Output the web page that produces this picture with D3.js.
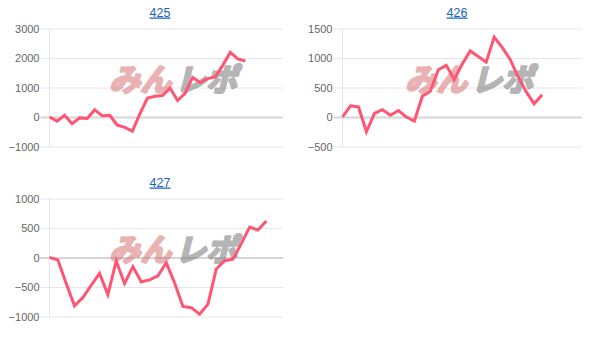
<!DOCTYPE html>
<html>
<head>
<meta charset="utf-8">
<script src="https://cdn.jsdelivr.net/npm/d3@7"></script>
<style>
  body { margin: 0; background: #fff; }
  svg { display: block; font-family: "Liberation Sans", Arial, sans-serif; }
</style>
</head>
<body>
<div id="charts"></div>
<script>
// machine numbers (chart titles)
const machines = ["425", "426", "427"];

// number of x slots on each chart's axis
const xSlots = [32, 31, 29];

// running balance
const diff425 = [0, -140, 60, -230, -30, -50, 240, 40, 60, -280, -350, -480, 110, 640, 700, 730,
    980, 560, 800, 1340, 1170, 1300, 1360, 1750, 2190, 1970, 1900];
const diff426 = [0, 190, 170, -250, 60, 125, 30, 110, 0, -70, 350, 435, 800, 875, 635, 900,
    1120, 1025, 930, 1355, 1180, 975, 680, 430, 225, 375];
const diff427 = [0, -40, -440, -820, -680, -470, -270, -630, -60, -440, -155, -410, -380, -310,
    -90, -430, -830, -850, -960, -790, -195, -55, -30, 235, 515, 465, 620];

// y tick labels
const ticks425 = [-1000, 0, 1000, 2000, 3000];
const ticks426 = [-500, 0, 500, 1000, 1500];
const ticks427 = [-1000, -500, 0, 500, 1000];

const series = [diff425, diff426, diff427];
const tickSets = [ticks425, ticks426, ticks427];

// layout for each panel
const panels = [
    { left: 49.5, right: 283, top: 28.5, bottom: 146.5, titleX: 160 },
    { left: 342.5, right: 582, top: 28.5, bottom: 146.5, titleX: 457 },
    { left: 49.5, right: 283, top: 198.5, bottom: 316.5, titleX: 160 }
];

const width = 608;
const height = 338;
const lineColor = "#ff5573";

const svg = d3.select("#charts").append("svg")
    .attr("width", width)
    .attr("height", height);

panels.forEach((p, i) => {
    const data = series[i];
    const ticks = tickSets[i];

    const x = d3.scaleLinear()
        .domain([0, xSlots[i] - 1])
        .range([p.left, p.right]);

    const y = d3.scaleLinear()
        .domain(d3.extent(ticks))
        .range([p.bottom, p.top]);

    const g = svg.append("g").attr("class", "panel");

    // title
    g.append("text")
        .attr("x", p.titleX)
        .attr("y", p.top - 12)
        .attr("text-anchor", "middle")
        .attr("fill", "#1565c0")
        .style("font-size", "12.5px")
        .style("text-decoration", "underline")
        .text(machines[i]);

    // horizontal grid + y axis
    const yAxis = g.append("g")
        .attr("transform", `translate(${p.left},0)`)
        .call(d3.axisLeft(y).tickValues(ticks).tickSize(9).tickPadding(1).tickFormat(d3.format("d")));
    yAxis.select(".domain").remove();
    yAxis.selectAll(".tick line")
        .attr("x2", p.right - p.left)
        .attr("x1", -9)
        .attr("stroke", d => d === 0 ? "#d6d6d6" : "#e6e6e6")
        .attr("stroke-width", d => d === 0 ? 2 : 1);
    yAxis.selectAll(".tick text")
        .attr("fill", "#666")
        .style("font-size", "11px");

    // left axis line
    g.append("line")
        .attr("x1", p.left).attr("x2", p.left)
        .attr("y1", p.top).attr("y2", p.bottom)
        .attr("stroke", "#e6e6e6");

    // watermark (logo drawn as text)
    const wm = g.append("g")
        .attr("opacity", 0.5)
        .attr("transform", `translate(${(p.left + p.right) / 2 + 9},${p.top + 62}) skewX(-14)`)
        .style("font-family", "'Noto Sans CJK JP', sans-serif")
        .style("font-weight", "bold")
        .style("font-size", "31px");
    wm.append("text")
        .attr("x", -4)
        .attr("text-anchor", "end")
        .attr("fill", "#d46a6a")
        .attr("stroke", "#d46a6a")
        .attr("stroke-width", 2.5)
        .attr("stroke-linejoin", "round")
        .text("みん");
    wm.append("text")
        .attr("x", 0)
        .attr("text-anchor", "start")
        .attr("fill", "#6e6e6e")
        .attr("stroke", "#6e6e6e")
        .attr("stroke-width", 2.5)
        .attr("stroke-linejoin", "round")
        .text("レポ");

    // line
    const line = d3.line()
        .x((d, j) => x(j))
        .y(d => y(d));

    g.append("path")
        .datum(data)
        .attr("d", line)
        .attr("fill", "none")
        .attr("stroke", lineColor)
        .attr("stroke-width", 3)
        .attr("stroke-linejoin", "miter");
});
</script>
</body>
</html>
